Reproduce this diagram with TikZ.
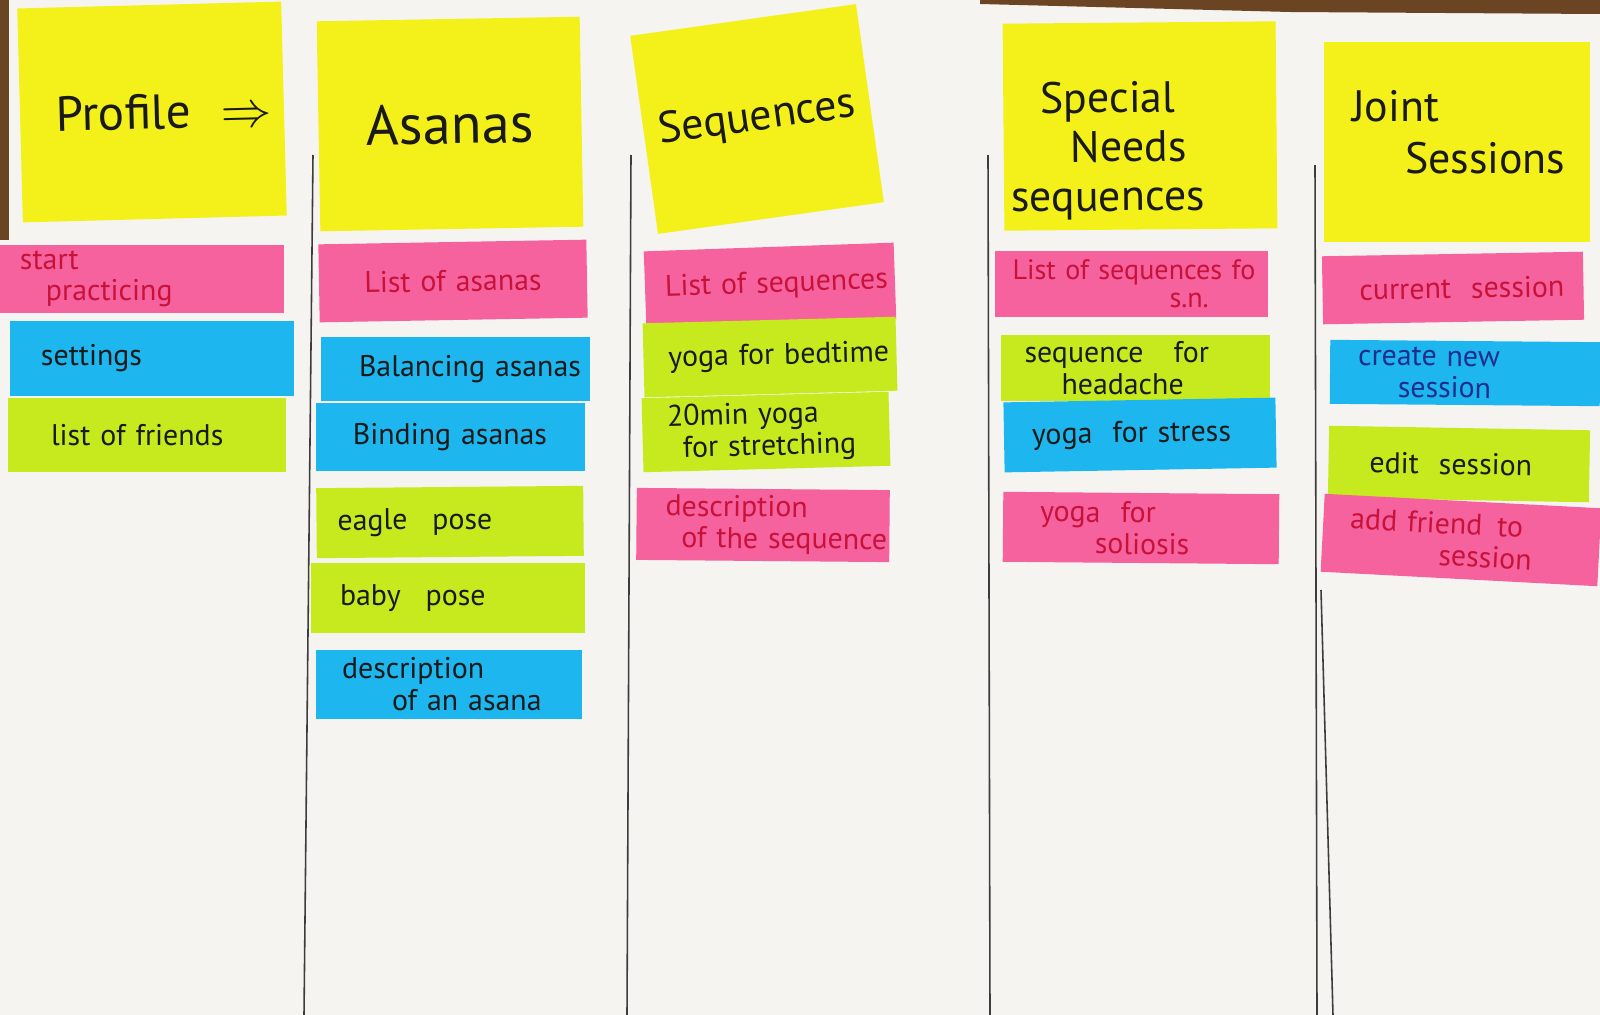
\documentclass[tikz,border=0pt]{standalone}
\usepackage{fontspec}
\setmainfont{PT Sans}
\usetikzlibrary{positioning}

\definecolor{paper}{HTML}{F6F4F1}
\definecolor{wood}{HTML}{6B4424}
\definecolor{notey}{HTML}{F3F01A}
\definecolor{notep}{HTML}{F5629E}
\definecolor{noteb}{HTML}{1DB6EE}
\definecolor{noteg}{HTML}{C6EA1E}
\definecolor{ink}{HTML}{1A1A1A}
\definecolor{inkred}{HTML}{C8123A}
\definecolor{inkblue}{HTML}{1C2F8C}

\newcommand{\inkfont}{\fontsize{8.5}{9}\selectfont}
\newcommand{\headfont}{\fontsize{14}{14}\selectfont}

\begin{document}
\begin{tikzpicture}[x=0.1mm, y=-0.1mm,
    sticky/.style={inner sep=0pt, minimum width=#1, text width=#1, align=left, font=\inkfont, text=ink},
    titlenote/.style={sticky=#1, fill=notey, font=\headfont},
    pinknote/.style={sticky=#1, fill=notep, text=inkred},
    bluenote/.style={sticky=#1, fill=noteb},
    greennote/.style={sticky=#1, fill=noteg},
    rule/.style={draw=ink!85, line width=0.45pt}]
  \useasboundingbox (0,0) rectangle (1600,1015);
  % paper and table
  \fill[paper] (0,0) rectangle (1600,1015);
  \fill[wood] (0,0) rectangle (9,240);
  \fill[wood] (980,0) -- (1600,0) -- (1600,14) -- (1290,12) -- (980,4) -- cycle;

  % column rules
  \draw[rule] (313,155) -- (304,1015);
  \draw[rule] (631,155) -- (627,1015);
  \draw[rule] (988,155) -- (990,1015);
  \draw[rule] (1315,165) -- (1317,1015);
  \draw[rule] (1321,590) -- (1333,1015);

  % profile
  \node[titlenote=26.4mm, minimum height=21.4mm, rotate=1.5] (profile) at (152,112) {\hspace*{3.6mm}Profile\hspace{3mm}$\Rightarrow$};
  \node[pinknote=28.4mm, minimum height=6.8mm] (startprac) at (142,279) {\hspace*{2mm}start\\\hspace*{4.6mm}practicing};
  \node[bluenote=28.4mm, minimum height=7.5mm] (settings) at (152,358) {\hspace*{3.1mm}settings};
  \node[greennote=27.8mm, minimum height=7.4mm] (friends) at (147,435) {\hspace*{4.3mm}list of friends};

  % asanas
  \node[titlenote=26.3mm, minimum height=21mm, rotate=1, align=center, font=\fontsize{16}{16}\selectfont] (asanas) at (450,124) {Asanas};
  \node[pinknote=26.8mm, minimum height=7.8mm, rotate=1, align=center] (listasanas) at (453,281) {List of asanas};
  \node[bluenote=26.9mm, minimum height=6.4mm, align=center] (balancing) at (455,369) {\hspace*{3mm}Balancing asanas};
  \node[bluenote=26.9mm, minimum height=6.8mm, align=center] (binding) at (450,437) {Binding asanas};
  \node[greennote=26.7mm, minimum height=7mm, rotate=0.5] (eagle) at (450,522) {\hspace*{2.1mm}eagle\hspace{2.5mm}pose};
  \node[greennote=27.4mm, minimum height=7mm] (baby) at (448,598) {\hspace*{2.9mm}baby\hspace{2.5mm}pose};
  \node[bluenote=26.6mm, minimum height=6.9mm] (descasana) at (449,684) {\hspace*{2.6mm}description\\\hspace*{7.6mm}of an asana};

  % sequences
  \node[titlenote=22.8mm, minimum height=20mm, rotate=8, align=center, font=\fontsize{12.5}{13}\selectfont] (sequences) at (757,119) {Sequences};
  \node[pinknote=25mm, minimum height=7.6mm, rotate=2] (listseq) at (770,285) {\hspace*{2mm}List of sequences};
  \node[greennote=25.3mm, minimum height=7.4mm, rotate=1.5] (bedtime) at (770,357) {\hspace*{2.5mm}yoga for bedtime};
  \node[greennote=24.7mm, minimum height=7.4mm, rotate=1.5] (stretching) at (766,432) {\hspace*{2.5mm}20min yoga\\\hspace*{4mm}for stretching};
  \node[pinknote=25.3mm, minimum height=7.2mm, rotate=-0.5] (descseq) at (763,525) {\hspace*{2.9mm}description\\\hspace*{4.5mm}of the sequence};

  % special needs
  \node[titlenote=27.3mm, minimum height=20.7mm, rotate=0.5, font=\fontsize{12.5}{14}\selectfont] (special) at (1140,126) {\hspace*{3.7mm}\rule{0pt}{8mm}Special\\\hspace*{6.7mm}Needs\\\hspace*{0.7mm}sequences};
  \node[pinknote=27.3mm, minimum height=6.6mm, font=\fontsize{8}{8}\selectfont] (listsn) at (1131,284) {\hspace*{1.8mm}List of sequences fo\\\hspace*{17.5mm}s.n.};
  \node[greennote=26.9mm, minimum height=6.6mm] (headache) at (1135,368) {\hspace*{2.4mm}sequence\hspace{3mm}for\\\hspace*{6.1mm}headache};
  \node[bluenote=27.2mm, minimum height=7mm, rotate=1] (stress) at (1140,435) {\hspace*{2.8mm}yoga\hspace{2mm}for stress};
  \node[pinknote=27.6mm, minimum height=7mm, rotate=-0.5] (soliosis) at (1141,528) {\hspace*{3.7mm}yoga\hspace{2mm}for\\\hspace*{9.2mm}soliosis};

  % joint sessions
  \node[titlenote=26.6mm, minimum height=20mm, font=\fontsize{12.5}{15}\selectfont] (joint) at (1457,142) {\hspace*{2.8mm}Joint\\\hspace*{8.1mm}Sessions\rule[-2mm]{0pt}{0pt}};
  \node[pinknote=26.1mm, minimum height=6.8mm, rotate=1] (current) at (1453,288) {\hspace*{3.7mm}current\hspace{2mm}session};
  \node[bluenote=27mm, minimum height=6.4mm, rotate=-0.5, text=inkblue] (createnew) at (1465,373) {\hspace*{2.8mm}create\hspace{1mm}new\\\hspace*{6.8mm}session};
  \node[greennote=26.1mm, minimum height=7.2mm, rotate=-1] (edit) at (1459,464) {\hspace*{4.1mm}edit\hspace{2mm}session};
  \node[pinknote=27.7mm, minimum height=7.8mm, rotate=-3] (addfriend) at (1461,540) {\hspace*{2.7mm}add friend\hspace{1.5mm}to\\\hspace*{11.7mm}session};
\end{tikzpicture}
\end{document}
